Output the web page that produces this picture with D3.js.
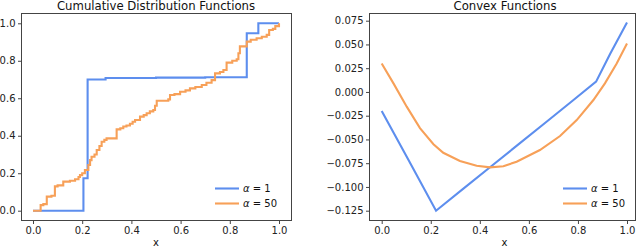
<!DOCTYPE html>
<html>
<head>
<meta charset="utf-8">
<script src="https://cdn.jsdelivr.net/npm/d3@7"></script>
<style>
  body { margin: 0; background: #fff; }
  svg { display: block; }
</style>
</head>
<body>
<div id="chart"></div>
<script>
// ---- data ----
var xTicks = [0, 0.2, 0.4, 0.6, 0.8, 1.0];
var cdfTicks = [0, 0.2, 0.4, 0.6, 0.8, 1.0];
var convexTicks = [-0.125, -0.1, -0.075, -0.05, -0.025, 0, 0.025, 0.05, 0.075];
var seriesNames = ['1', '50'];

// step CDFs: [x, y after the step]
var cdfAlpha1 = [[0,0],[0.205,0.173],[0.222,0.70],[0.295,0.708],[0.5,0.71],[0.7,0.712],
  [0.869,0.947],[0.916,1.0],[1.0,1.0]];
var cdfAlpha50 = [[0,0],[0.031,0.03],[0.042,0.035],[0.056,0.075],[0.075,0.08],[0.089,0.13],
  [0.1,0.135],[0.123,0.155],[0.15,0.16],[0.171,0.168],[0.185,0.18],[0.191,0.19],[0.2,0.2],
  [0.211,0.217],[0.225,0.244],[0.232,0.27],[0.238,0.288],[0.25,0.3],[0.259,0.324],[0.27,0.345],
  [0.279,0.368],[0.29,0.378],[0.299,0.386],[0.34,0.434],[0.355,0.44],[0.367,0.449],[0.38,0.455],
  [0.394,0.464],[0.405,0.475],[0.415,0.484],[0.435,0.502],[0.45,0.51],[0.462,0.52],[0.475,0.53],
  [0.489,0.537],[0.496,0.56],[0.503,0.587],[0.55,0.594],[0.557,0.617],[0.575,0.622],[0.598,0.635],
  [0.62,0.642],[0.638,0.653],[0.66,0.66],[0.686,0.671],[0.705,0.683],[0.726,0.697],[0.74,0.733],
  [0.76,0.74],[0.774,0.751],[0.787,0.79],[0.81,0.8],[0.828,0.808],[0.835,0.84],[0.841,0.877],
  [0.869,0.902],[0.885,0.912],[0.909,0.92],[0.93,0.928],[0.95,0.938],[0.96,0.964],[0.975,0.97],
  [0.985,0.985],[1.0,1.0]];

// convex functions
var convexAlpha1 = [[0,-0.020],[0.111,-0.0725],[0.2215,-0.125],[0.333,-0.1018],[0.444,-0.0787],
  [0.556,-0.0555],[0.667,-0.0324],[0.778,-0.0093],[0.874,0.0108],[0.931,0.040],[1.0,0.073]];
var convexAlpha50 = [[0,0.030],[0.048,0.009],[0.102,-0.0155],[0.156,-0.038],[0.211,-0.055],
  [0.251,-0.064],[0.319,-0.0727],[0.387,-0.0776],[0.442,-0.0794],[0.496,-0.0782],[0.55,-0.0734],
  [0.645,-0.0611],[0.727,-0.0464],[0.795,-0.0296],[0.863,-0.0085],[0.91,0.009],[0.958,0.030],
  [1.0,0.051]];

var colors = ['#5d8eee', '#f7a058'];
var fontFam = 'DejaVu Sans, sans-serif';

var svg = d3.select('#chart').append('svg')
  .attr('width', 640).attr('height', 247);

function drawPanel(p) {
  var x = d3.scaleLinear().domain([0, 1]).range([p.x0, p.x1]);
  var y = d3.scaleLinear().domain(p.yDomain).range([p.y0, p.y1]);
  var g = svg.append('g');

  var line = d3.line().x(function(d){ return x(d[0]); }).y(function(d){ return y(d[1]); })
    .curve(p.curve);
  p.series.forEach(function(s, i) {
    g.append('path').datum(s)
      .attr('d', line)
      .attr('fill', 'none')
      .attr('stroke', colors[i])
      .attr('stroke-width', 2.1)
      .attr('stroke-linejoin', 'miter');
  });

  // frame
  g.append('rect')
    .attr('x', p.left + 0.5).attr('y', p.top + 0.5)
    .attr('width', p.right - p.left).attr('height', p.bottom - p.top)
    .attr('fill', 'none').attr('stroke', '#444').attr('stroke-width', 1);

  var xa = g.append('g').attr('transform', 'translate(0,' + (p.bottom + 0.5) + ')')
    .call(d3.axisBottom(x).tickValues(xTicks).tickSize(3.5).tickPadding(2.5)
      .tickFormat(d3.format('.1f')));
  var ya = g.append('g').attr('transform', 'translate(' + (p.left + 0.5) + ',0)')
    .call(d3.axisLeft(y).tickValues(p.yTicks).tickSize(3.5).tickPadding(2.5)
      .tickFormat(d3.format(p.yFormat)));
  [xa, ya].forEach(function(a) {
    a.select('.domain').remove();
    a.attr('font-family', fontFam).attr('font-size', 10);
    a.selectAll('line').attr('stroke', '#444');
    a.selectAll('text').attr('fill', '#222');
  });

  var cx = (p.left + p.right) / 2;
  g.append('text').attr('x', cx + p.titleShift).attr('y', 10)
    .attr('text-anchor', 'middle').attr('font-family', fontFam).attr('font-size', 11.7)
    .attr('fill', '#111').text(p.title);
  g.append('text').attr('x', x(0.5)).attr('y', 245.5)
    .attr('text-anchor', 'middle').attr('font-family', fontFam).attr('font-size', 10)
    .attr('fill', '#111').text('x');

  // legend
  seriesNames.forEach(function(n, i) {
    var ly = 188.5 + i * 15;
    g.append('line').attr('x1', p.legX).attr('x2', p.legX + 24)
      .attr('y1', ly).attr('y2', ly)
      .attr('stroke', colors[i]).attr('stroke-width', 2.1);
    var t = g.append('text').attr('x', p.legX + 28).attr('y', ly + 3.6)
      .attr('font-family', fontFam).attr('font-size', 10).attr('fill', '#111');
    t.append('tspan').attr('font-style', 'italic').text('α');
    t.append('tspan').text(' = ' + n);
  });
}

drawPanel({
  left: 21, right: 291, top: 13, bottom: 220,
  x0: 33, x1: 279, y0: 210.7, y1: 23.3, yDomain: [0, 1],
  yTicks: cdfTicks, yFormat: '.1f', curve: d3.curveStepAfter,
  series: [cdfAlpha1, cdfAlpha50],
  title: 'Cumulative Distribution Functions', titleShift: 0, legX: 215
});
drawPanel({
  left: 369, right: 635, top: 13, bottom: 220,
  x0: 381.7, x1: 627, y0: 210.7, y1: 20.7, yDomain: [-0.125, 0.075],
  yTicks: convexTicks, yFormat: '.3f', curve: d3.curveLinear,
  series: [convexAlpha1, convexAlpha50],
  title: 'Convex Functions', titleShift: 3, legX: 563
});
</script>
</body>
</html>
